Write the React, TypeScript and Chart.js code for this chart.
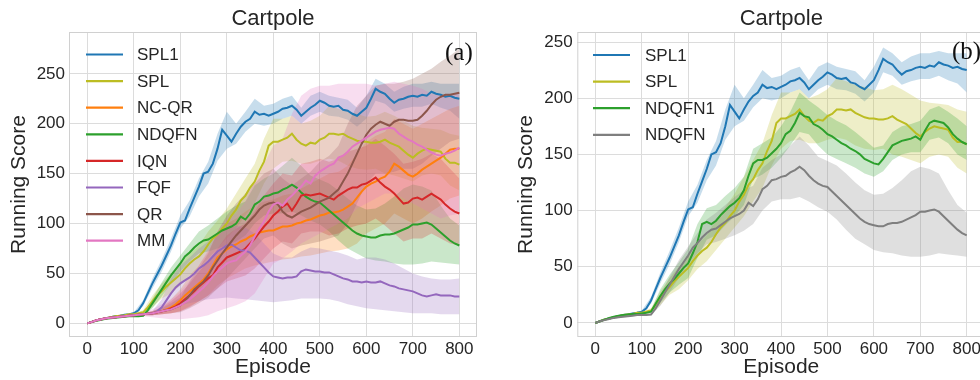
import React, { useEffect, useRef } from "react";
import { Chart, registerables } from "chart.js";
Chart.register(...registerables);

const EP10 = [
  0, 10, 20, 30, 40, 50, 60, 70, 80, 90,
  100, 110, 120, 130, 140, 150, 160, 170, 180, 190,
  200, 210, 220, 230, 240, 250, 260, 270, 280, 290,
  300, 310, 320, 330, 340, 350, 360, 370, 380, 390,
  400, 410, 420, 430, 440, 450, 460, 470, 480, 490,
  500, 510, 520, 530, 540, 550, 560, 570, 580, 590,
  600, 610, 620, 630, 640, 650, 660, 670, 680, 690,
  700, 710, 720, 730, 740, 750, 760, 770, 780, 790,
  800,
];
const EP20 = [
  0, 20, 40, 60, 80, 100, 120, 140, 160, 180,
  200, 220, 240, 260, 280, 300, 320, 340, 360, 380,
  400, 420, 440, 460, 480, 500, 520, 540, 560, 580,
  600, 620, 640, 660, 680, 700, 720, 740, 760, 780,
  800,
];
const X_TICKS = [0, 100, 200, 300, 400, 500, 600, 700, 800];
const Y_TICKS = [0, 50, 100, 150, 200, 250];

// ---- means (every 10 episodes) ----
const SPL1_MEAN = [
  0, 1.5, 3, 4, 5, 6, 7, 7.5, 8.5, 9,
  10, 13, 20, 30, 40, 49, 58, 68, 78, 90,
  101, 103, 115, 126, 137, 150, 152, 160, 175, 194,
  188, 182, 190, 197, 202, 205, 212, 209, 210, 208,
  210, 212, 215, 216, 218, 214, 208, 212, 216, 219,
  223, 221, 218, 217, 218, 214, 213, 210, 208, 212,
  216, 225, 235, 232, 230, 225, 221, 224, 225, 227,
  228, 227, 229, 228, 232, 230, 229, 227, 228, 226,
  225,
];
const SPL_MEAN = [
  0, 1.5, 3, 4, 5, 6, 7, 7.5, 8, 9,
  9, 10, 11, 16, 22, 28, 32, 37, 41, 45,
  49, 55, 60, 64, 67, 72, 79, 85, 89, 95,
  100, 108, 114, 123, 128, 136, 142, 153, 162, 178,
  182, 182, 184, 186, 190, 184, 180, 178, 181, 180,
  184, 186, 190, 190, 189, 190, 187, 185, 183, 182,
  182, 181, 181, 182, 184, 181, 179, 177, 173, 169,
  166, 170, 173, 175, 174, 173, 172, 165, 161, 161,
  159,
];
const NDQFN1_MEAN = [
  0, 1.5, 3, 4.5, 5.5, 6.5, 7, 7.5, 8, 8,
  8.5, 9, 10, 17, 24, 30, 35, 39, 44, 49,
  53, 62, 72, 88, 90, 88, 91, 96, 100, 104,
  107, 111, 118, 131, 142, 145, 145, 147, 151, 155,
  160, 168, 171, 178, 187, 184, 183, 177, 175, 172,
  168, 166, 163, 160, 158, 155, 153, 150, 146, 144,
  142, 141, 146, 152, 158, 160, 162, 163, 164, 166,
  163, 171, 178, 180, 179, 178, 174, 168, 164, 161,
  159,
];
const NDQFN_MEAN = [
  0, 1.5, 2.5, 3.5, 4.5, 5, 5.5, 6, 6.5, 7,
  7, 7, 7.5, 13, 20, 27, 34, 41, 48, 54,
  60, 67, 71, 76, 80, 83, 84, 87, 90, 93,
  95, 97, 100, 107, 104, 110, 119, 122, 127, 128,
  130, 131, 134, 136, 139, 136, 131, 127, 124, 122,
  121, 117, 113, 109, 105, 101, 97, 93, 90, 88,
  87, 86, 86, 88, 89, 89, 90, 92, 94, 96,
  99, 99, 100, 101, 99, 95, 91, 87, 83, 80,
  78,
];
const FQF_MEAN = [
  0, 1.5, 3, 4, 5, 5.5, 6, 6.5, 7, 7.5,
  8, 8.5, 9, 9.5, 10, 12, 16, 23, 30, 36,
  40, 43, 46, 50, 55, 58, 62, 67, 72, 75,
  78, 79, 76, 73, 73, 71, 66, 61, 56, 51,
  47, 46, 45, 46, 46, 47, 52, 54, 53, 52,
  52, 51, 51, 49, 47, 45, 44, 42, 42, 41,
  42, 41, 41, 42, 40, 38, 37, 35, 34, 33,
  32, 30, 28, 27, 28, 29, 28, 28, 28, 27,
  27,
];
const NCQR_MEAN = [
  0, 1.5, 3, 4, 5, 5.5, 6, 6.5, 7, 7.5,
  8, 8.5, 9, 9.5, 10, 11, 12, 14, 16, 19,
  23, 28, 32, 36, 40, 44, 50, 58, 66, 70,
  74, 77, 79, 82, 84, 87, 89, 91, 92, 93,
  93, 95, 97, 97, 98, 100, 101, 103, 104, 106,
  108, 109, 111, 111, 112, 114, 117, 120, 126, 132,
  137, 140, 142, 145, 147, 152, 160, 157, 153, 149,
  147, 150, 154, 157, 160, 163, 166, 170, 174, 175,
  175,
];
const IQN_MEAN = [
  0, 1.5, 3, 4, 5, 5.5, 6, 6.5, 7, 7.5,
  8, 8.5, 9, 9.5, 10, 11, 12, 13, 15, 17,
  20, 24, 28, 32, 37, 41, 45, 48, 56, 61,
  66, 68, 70, 72, 75, 80, 85, 91, 97, 102,
  108, 112, 117, 120, 113, 120, 128, 129, 128, 129,
  130, 128, 126, 124, 128, 131, 134, 136, 136, 139,
  140, 143, 146, 141, 137, 134, 130, 125, 120, 121,
  125, 126, 124, 127, 130, 127, 124, 119, 115, 112,
  110,
];
const QR_MEAN = [
  0, 1.5, 3, 4, 5, 5.5, 6, 6.5, 7, 7.5,
  8, 8.5, 9, 9.5, 10, 11, 12, 13, 14, 16,
  18, 22, 28, 34, 38, 42, 48, 56, 63, 70,
  76, 82, 88, 93, 98, 103, 108, 114, 118, 120,
  121, 119, 112, 108, 106, 109, 112, 114, 116, 119,
  122, 124, 126, 130, 134, 142, 150, 160, 170, 180,
  189, 195, 199, 202, 200, 198, 202, 204, 204, 203,
  203, 204, 208, 213, 219, 224, 227, 229, 229, 230,
  231,
];
const MM_MEAN = [
  0, 1.5, 3, 4, 5, 5.5, 6, 6.5, 7, 7.5,
  8, 8.5, 9, 9.5, 10, 11, 12, 13, 14, 16,
  18, 21, 24, 28, 32, 36, 41, 47, 52, 56,
  60, 62, 63, 68, 72, 78, 87, 95, 102, 112,
  119, 121, 118, 124, 128, 133, 137, 143, 140, 148,
  152, 155, 158, 160, 166, 168, 172, 177, 180, 183,
  186, 189, 192, 194, 195, 196, 195, 190, 187, 184,
  182, 179, 177, 174, 171, 169, 168, 170, 171, 173,
  176,
];

// ---- bands (every 20 episodes) ----
const SPL1_LO = [0, 2.5, 4.5, 6.5, 8, 9, 17, 35, 52, 72, 95, 107, 127, 140, 163, 175, 180, 192, 200, 198, 200, 205, 208, 200, 208, 212, 208, 207, 204, 197, 205, 223, 220, 212, 215, 217, 217, 220, 216, 213, 205];
const SPL1_HI = [0, 3.5, 5.5, 7.5, 9, 11, 23, 45, 64, 85, 108, 123, 145, 162, 190, 212, 200, 212, 225, 218, 220, 225, 228, 216, 228, 232, 228, 226, 224, 216, 228, 245, 240, 232, 237, 240, 240, 242, 240, 240, 240];
const SPL_LO = [0, 2.5, 4.5, 6.5, 7.5, 8, 9, 16, 25, 30, 38, 48, 55, 65, 75, 85, 95, 108, 120, 140, 155, 162, 163, 160, 160, 163, 165, 163, 158, 155, 154, 155, 150, 148, 145, 142, 148, 150, 148, 138, 133];
const SPL_HI = [0, 3.5, 5.5, 7.5, 8.5, 10, 13, 28, 40, 50, 60, 70, 78, 92, 103, 115, 130, 145, 160, 185, 205, 205, 208, 200, 203, 208, 218, 215, 212, 210, 207, 208, 212, 208, 203, 198, 196, 195, 194, 190, 188];
const NDQFN1_LO = [0, 2.5, 5, 6.5, 7.5, 8, 9, 18, 27, 34, 40, 58, 74, 78, 87, 95, 105, 128, 132, 138, 147, 158, 170, 168, 158, 150, 146, 142, 138, 133, 130, 135, 145, 150, 152, 152, 163, 165, 160, 150, 145];
const NDQFN1_HI = [0, 3.5, 6, 7.5, 8.5, 9, 12, 30, 43, 54, 66, 88, 102, 105, 113, 120, 130, 155, 160, 165, 175, 188, 205, 198, 192, 185, 180, 176, 170, 163, 156, 158, 170, 175, 177, 180, 190, 193, 188, 182, 175];
const NDQFN_LO = [0, 2, 4, 5, 6, 6.5, 7, 15, 27, 40, 52, 62, 70, 72, 75, 78, 82, 88, 100, 108, 110, 110, 112, 108, 103, 99, 92, 83, 75, 70, 65, 63, 62, 60, 59, 59, 60, 62, 61, 60, 59];
const NDQFN_HI = [0, 3, 5, 6, 7, 7.5, 9, 25, 41, 56, 68, 80, 92, 98, 105, 112, 118, 122, 138, 145, 150, 158, 166, 158, 148, 144, 140, 133, 125, 118, 114, 115, 120, 127, 135, 139, 137, 133, 118, 105, 98];
const FQF_LO = [0, 2.5, 4.5, 5.5, 6.5, 7, 8, 8, 10, 15, 18, 20, 22, 24, 25, 26, 25, 24, 23, 22, 21, 22, 23, 25, 25, 25, 24, 22, 19, 17, 15, 14, 13, 12, 11, 10, 10, 10, 9, 9, 9];
const FQF_HI = [0, 3.5, 5.5, 6.5, 7.5, 9, 10, 12, 24, 45, 58, 66, 75, 82, 90, 95, 98, 96, 90, 80, 70, 66, 66, 72, 76, 75, 73, 71, 68, 64, 66, 66, 64, 60, 55, 50, 47, 45, 44, 44, 45];
const NCQR_LO = [0, 2.5, 4.5, 5.5, 6.5, 7, 8, 8, 9, 10, 12, 17, 22, 28, 38, 45, 50, 55, 58, 60, 62, 64, 65, 67, 68, 70, 72, 73, 75, 80, 90, 95, 100, 110, 105, 100, 105, 112, 118, 125, 128];
const NCQR_HI = [0, 3.5, 5.5, 6.5, 7.5, 9, 10, 12, 16, 24, 34, 48, 58, 72, 90, 100, 105, 112, 118, 122, 124, 128, 130, 135, 140, 145, 150, 152, 158, 170, 182, 188, 192, 205, 200, 195, 200, 205, 210, 215, 218];
const IQN_LO = [0, 2.5, 4.5, 5.5, 6.5, 7, 8, 8, 9, 10, 12, 16, 22, 28, 35, 42, 45, 48, 55, 65, 75, 82, 80, 90, 92, 92, 88, 90, 95, 98, 100, 105, 98, 90, 82, 85, 85, 90, 85, 80, 78];
const IQN_HI = [0, 3.5, 5.5, 6.5, 7.5, 9, 10, 12, 16, 22, 30, 40, 52, 62, 75, 88, 95, 100, 112, 128, 140, 150, 148, 160, 162, 165, 162, 165, 172, 175, 178, 185, 178, 170, 160, 162, 165, 170, 165, 155, 145];
const QR_LO = [0, 2.5, 4.5, 5.5, 6.5, 7, 8, 8, 9, 10, 11, 15, 20, 26, 35, 45, 55, 65, 75, 85, 88, 80, 75, 78, 80, 82, 85, 88, 100, 120, 140, 150, 150, 152, 155, 155, 160, 168, 175, 182, 185];
const QR_HI = [0, 3.5, 5.5, 6.5, 7.5, 9, 10, 12, 15, 20, 26, 42, 55, 70, 92, 108, 120, 130, 140, 150, 155, 145, 138, 145, 152, 162, 168, 178, 200, 218, 228, 238, 240, 240, 242, 245, 250, 255, 262, 268, 275];
const MM_LO = [0, 2.5, 4.5, 5.5, 6.5, 7, 7, 6, 5, 4, 4, 5, 6, 8, 12, 15, 18, 22, 30, 45, 60, 65, 72, 80, 85, 90, 95, 100, 105, 115, 120, 125, 130, 130, 125, 120, 115, 110, 105, 108, 110];
const MM_HI = [0, 3.5, 5.5, 6.5, 7.5, 9, 11, 14, 19, 24, 32, 43, 58, 74, 92, 105, 110, 122, 142, 160, 178, 185, 210, 228, 235, 238, 238, 240, 240, 240, 240, 238, 240, 242, 240, 238, 235, 230, 228, 228, 232];

type Series = { label: string; color: string; mean: number[]; lo: number[]; hi: number[] };

const LEFT_SERIES: Series[] = [
  { label: "SPL1", color: "#1f77b4", mean: SPL1_MEAN, lo: SPL1_LO, hi: SPL1_HI },
  { label: "SPL", color: "#bcbd22", mean: SPL_MEAN, lo: SPL_LO, hi: SPL_HI },
  { label: "NC-QR", color: "#ff7f0e", mean: NCQR_MEAN, lo: NCQR_LO, hi: NCQR_HI },
  { label: "NDQFN", color: "#2ca02c", mean: NDQFN_MEAN, lo: NDQFN_LO, hi: NDQFN_HI },
  { label: "IQN", color: "#d62728", mean: IQN_MEAN, lo: IQN_LO, hi: IQN_HI },
  { label: "FQF", color: "#9467bd", mean: FQF_MEAN, lo: FQF_LO, hi: FQF_HI },
  { label: "QR", color: "#8c564b", mean: QR_MEAN, lo: QR_LO, hi: QR_HI },
  { label: "MM", color: "#e377c2", mean: MM_MEAN, lo: MM_LO, hi: MM_HI },
];
const RIGHT_SERIES: Series[] = [
  { label: "SPL1", color: "#1f77b4", mean: SPL1_MEAN, lo: SPL1_LO, hi: SPL1_HI },
  { label: "SPL", color: "#bcbd22", mean: SPL_MEAN, lo: SPL_LO, hi: SPL_HI },
  { label: "NDQFN1", color: "#2ca02c", mean: NDQFN1_MEAN, lo: NDQFN1_LO, hi: NDQFN1_HI },
  { label: "NDQFN", color: "#7f7f7f", mean: NDQFN_MEAN, lo: NDQFN_LO, hi: NDQFN_HI },
];

const SANS = "'Liberation Sans', Arial, sans-serif";
const SERIF = "'Liberation Serif', 'Times New Roman', serif";
const TEXT = "#262626";
const GRID = "#dcdcdc";

function rgba(hex: string, a: number) {
  const n = parseInt(hex.slice(1), 16);
  return `rgba(${(n >> 16) & 255},${(n >> 8) & 255},${n & 255},${a})`;
}

function buildDatasets(series: Series[]) {
  const ds: any[] = [];
  const n = series.length;
  series.forEach((s, i) => {
    ds.push({
      label: s.label,
      data: EP10.map((x, k) => ({ x, y: s.mean[k] })),
      borderColor: s.color,
      borderWidth: 2,
      pointRadius: 0,
      fill: false,
      tension: 0,
      order: n - i,
    });
  });
  series.forEach((s, i) => {
    const loIdx = ds.length;
    ds.push({
      label: s.label + "_lo",
      data: EP20.map((x, k) => ({ x, y: s.lo[k] })),
      borderColor: "rgba(0,0,0,0)",
      borderWidth: 0,
      pointRadius: 0,
      fill: false,
      tension: 0,
      order: 100 + n - i,
    });
    ds.push({
      label: s.label + "_hi",
      data: EP20.map((x, k) => ({ x, y: s.hi[k] })),
      borderColor: "rgba(0,0,0,0)",
      borderWidth: 0,
      pointRadius: 0,
      fill: loIdx,
      backgroundColor: rgba(s.color, 0.25),
      tension: 0,
      order: 100 + n - i,
    });
  });
  return ds;
}

const decorPlugin = {
  id: "decor",
  afterDatasetsDraw(chart: any, _args: any, opts: any) {
    const { ctx, chartArea } = chart;
    ctx.save();
    ctx.strokeStyle = "#d0d0d0";
    ctx.lineWidth = 1;
    ctx.strokeRect(chartArea.left + 0.5, chartArea.top + 0.5, chartArea.right - chartArea.left - 1, chartArea.bottom - chartArea.top - 1);
    // title
    ctx.fillStyle = TEXT;
    ctx.font = `22px ${SANS}`;
    ctx.textAlign = "center";
    ctx.textBaseline = "middle";
    ctx.fillText(opts.title, (chartArea.left + chartArea.right) / 2, 19);
    // legend
    ctx.textAlign = "left";
    ctx.font = `17px ${SANS}`;
    const items = opts.items as { label: string; color: string }[];
    items.forEach((it, i) => {
      const y = opts.y + i * opts.rowH;
      ctx.strokeStyle = it.color;
      ctx.lineWidth = 2.2;
      ctx.beginPath();
      ctx.moveTo(opts.x, y);
      ctx.lineTo(opts.x + opts.len, y);
      ctx.stroke();
      ctx.fillStyle = TEXT;
      ctx.fillText(it.label, opts.textX, y + 1);
    });
    // panel tag
    ctx.font = `25px ${SERIF}`;
    ctx.fillStyle = "#111";
    ctx.fillText(opts.tag, opts.tagX, opts.tagY);
    ctx.restore();
  },
};

type PanelCfg = {
  series: Series[];
  width: number;
  yAxisW: number;
  padRight: number;
  xMin: number;
  xMax: number;
  yMin: number;
  yMax: number;
  yTitlePad: number;
  yTickPad: number;
  tag: string;
  tagX: number;
  tagY: number;
  legX: number;
  legTextX: number;
  legY: number;
};

function Panel({ cfg, left }: { cfg: PanelCfg; left: number }) {
  const ref = useRef<HTMLCanvasElement>(null);
  useEffect(() => {
    if (!ref.current) return;
    const chart = new Chart(ref.current, {
      type: "line",
      data: { datasets: buildDatasets(cfg.series) },
      plugins: [decorPlugin],
      options: {
        animation: false,
        responsive: false,
        devicePixelRatio: 1,
        layout: { padding: { top: 32, left: 0, right: cfg.padRight, bottom: 0 } },
        plugins: {
          legend: { display: false },
          tooltip: { enabled: false },
          title: { display: false },
          decor: {
            title: "Cartpole",
            items: cfg.series.map((s) => ({ label: s.label, color: s.color })),
            x: cfg.legX,
            len: 37,
            textX: cfg.legTextX,
            y: cfg.legY,
            rowH: 26.6,
            tag: cfg.tag,
            tagX: cfg.tagX,
            tagY: cfg.tagY,
          },
        } as any,
        scales: {
          x: {
            type: "linear",
            min: cfg.xMin,
            max: cfg.xMax,
            afterBuildTicks: (s: any) => {
              s.ticks = X_TICKS.map((v) => ({ value: v }));
            },
            afterFit: (s: any) => {
              s.height = 43;
            },
            grid: { color: GRID, drawTicks: false, lineWidth: 1 },
            border: { display: false },
            ticks: { color: TEXT, font: { size: 17, family: SANS }, padding: 2, maxRotation: 0 },
            title: {
              display: true,
              text: "Episode",
              color: TEXT,
              font: { size: 21, family: SANS },
              padding: { top: 0, bottom: 0 },
            },
          },
          y: {
            type: "linear",
            min: cfg.yMin,
            max: cfg.yMax,
            afterBuildTicks: (s: any) => {
              s.ticks = Y_TICKS.map((v) => ({ value: v }));
            },
            afterFit: (s: any) => {
              s.width = cfg.yAxisW;
            },
            grid: { color: GRID, drawTicks: false, lineWidth: 1 },
            border: { display: false },
            ticks: { color: TEXT, font: { size: 17, family: SANS }, padding: cfg.yTickPad },
            title: {
              display: true,
              text: "Running Score",
              color: TEXT,
              font: { size: 21, family: SANS },
              padding: { top: cfg.yTitlePad, bottom: 0 },
            },
          },
        },
      } as any,
    });
    return () => chart.destroy();
  }, []);
  return (
    <canvas
      ref={ref}
      width={cfg.width}
      height={380}
      style={{ position: "absolute", left, top: 0, width: cfg.width, height: 380 }}
    />
  );
}

const LEFT_CFG: PanelCfg = {
  series: LEFT_SERIES,
  width: 490,
  yAxisW: 69,
  padRight: 13,
  xMin: -39.4,
  xMax: 838,
  yMin: -13.7,
  yMax: 291.9,
  yTitlePad: 6.4,
  yTickPad: 4,
  tag: "(a)",
  tagX: 445,
  tagY: 53,
  legX: 86,
  legTextX: 137,
  legY: 54.5,
};
const RIGHT_CFG: PanelCfg = {
  series: RIGHT_SERIES,
  width: 500,
  yAxisW: 87.3,
  padRight: 4.7,
  xMin: -38.8,
  xMax: 840,
  yMin: -12.5,
  yMax: 258.9,
  yTitlePad: 24.1,
  yTickPad: 4.6,
  tag: "(b)",
  tagX: 462,
  tagY: 52,
  legX: 103,
  legTextX: 155,
  legY: 55,
};

export default function App() {
  return (
    <div
      style={{
        position: "absolute",
        left: 0,
        top: 0,
        width: 980,
        height: 380,
        overflow: "hidden",
        background: "#ffffff",
      }}
    >
      <Panel cfg={LEFT_CFG} left={0} />
      <Panel cfg={RIGHT_CFG} left={490} />
    </div>
  );
}
